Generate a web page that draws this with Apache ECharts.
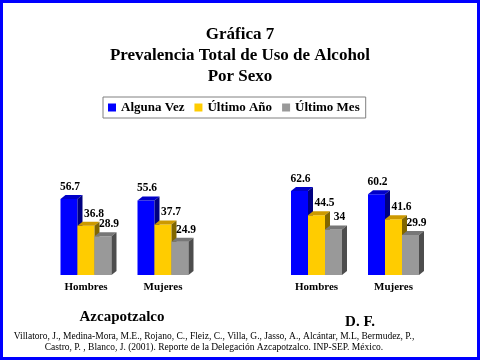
<!DOCTYPE html>
<html>
<head>
<meta charset="utf-8">
<script src="https://cdn.jsdelivr.net/npm/echarts@6/dist/echarts.min.js"></script>
<style>html,body{margin:0;padding:0;background:#fff;}#c{width:480px;height:360px;}</style>
</head>
<body>
<div id="c"></div>
<script>
const categories = ['Hombres', 'Mujeres'];
const seriesNames = ['Alguna Vez', 'Último Año', 'Último Mes'];
const groupLabels = ['Azcapotzalco', 'D. F.'];
const azcAlgunaVez = [56.7, 55.6];
const azcUltimoAno = [36.8, 37.7];
const azcUltimoMes = [28.9, 24.9];
const dfAlgunaVez = [62.6, 60.2];
const dfUltimoAno = [44.5, 41.6];
const dfUltimoMes = [34, 29.9];
const titleLines = ['Gráfica 7', 'Prevalencia Total de Uso de Alcohol', 'Por Sexo'];
const citation = 'Villatoro, J., Medina-Mora, M.E., Rojano, C., Fleiz, C., Villa, G., Jasso, A., Alcántar, M.L, Bermudez, P.,\nCastro, P. , Blanco, J. (2001). Reporte de la Delegación Azcapotzalco. INP-SEP. México.';

const faces = [
  { front: '#0000FF', top: '#0000C8', side: '#000080' },
  { front: '#FFCC00', top: '#CC9900', side: '#806600' },
  { front: '#999999', top: '#777777', side: '#4D4D4D' }
];
const labelShift = [1, 8, 6];
const BW = 17, DX = 5, DY = 4;

function makeRender(i) {
  return function (params, api) {
    const ci = api.value(0), v = api.value(1);
    const base = api.coord([ci, 0]);
    const top = api.coord([ci, v]);
    const x0 = base[0] - 25.5 + i * BW;
    const x1 = x0 + BW;
    const yb = base[1], yt = top[1];
    const f = faces[i];
    return {
      type: 'group',
      children: [
        { type: 'rect', shape: { x: x0, y: yt, width: BW, height: yb - yt }, style: { fill: f.front } },
        { type: 'polygon', shape: { points: [[x0, yt], [x1, yt], [x1 + DX, yt - DY], [x0 + DX, yt - DY]] }, style: { fill: f.top } },
        { type: 'polygon', shape: { points: [[x1, yt], [x1 + DX, yt - DY], [x1 + DX, yb - DY], [x1, yb]] }, style: { fill: f.side } },
        { type: 'text', x: x0 + BW / 2 + labelShift[i], y: yt - DY - 8,
          style: { text: String(v), fill: '#000', font: 'bold 11.5px "Liberation Serif", serif', align: 'center', verticalAlign: 'middle' } }
      ]
    };
  };
}

const groups = [
  [azcAlgunaVez, azcUltimoAno, azcUltimoMes],
  [dfAlgunaVez, dfUltimoAno, dfUltimoMes]
];
const series = [];
groups.forEach((g, gi) => {
  g.forEach((vals, i) => {
    series.push({
      type: 'custom', name: seriesNames[i], xAxisIndex: gi, yAxisIndex: gi,
      itemStyle: { color: faces[i].front },
      renderItem: makeRender(i),
      data: vals.map((v, k) => [k, v])
    });
  });
});

const axisX = (gi) => ({
  type: 'category', gridIndex: gi, data: categories,
  axisLine: { show: false }, axisTick: { show: false },
  axisLabel: { color: '#000', fontFamily: 'Liberation Serif', fontWeight: 'bold', fontSize: 11, margin: 7 }
});
const axisY = (gi) => ({ type: 'value', gridIndex: gi, min: 0, max: 100, show: false, splitLine: { show: false } });

const chart = echarts.init(document.getElementById('c'));
chart.setOption({
  animation: false,
  backgroundColor: '#fff',
  title: {
    text: titleLines.join('\n'), left: 'center', top: 19,
    textStyle: { fontFamily: 'Liberation Serif', fontWeight: 'bold', fontSize: 17, lineHeight: 21, color: '#000' }
  },
  legend: {
    data: seriesNames, left: 103, top: 97,
    itemWidth: 8, itemHeight: 8, itemGap: 10, icon: 'rect',
    borderColor: '#808080', borderWidth: 1, borderRadius: 0, padding: [4, 6, 4, 5],
    textStyle: { fontFamily: 'Liberation Serif', fontWeight: 'bold', fontSize: 13, color: '#000' }
  },
  grid: [
    { left: 47.5, width: 154, top: 141, height: 134 },
    { left: 278, width: 154, top: 141, height: 134 }
  ],
  xAxis: [axisX(0), axisX(1)],
  yAxis: [axisY(0), axisY(1)],
  series: series,
  graphic: [
    { type: 'rect', shape: { x: 1.5, y: 1.5, width: 477, height: 357 }, style: { fill: 'none', stroke: '#0000FF', lineWidth: 3 }, silent: true },
    { type: 'text', x: 122, y: 317, style: { text: groupLabels[0], font: 'bold 15px "Liberation Serif", serif', fill: '#000', align: 'center', verticalAlign: 'middle' } },
    { type: 'text', x: 360, y: 322, style: { text: groupLabels[1], font: 'bold 15px "Liberation Serif", serif', fill: '#000', align: 'center', verticalAlign: 'middle' } },
    { type: 'text', x: 214, y: 342, style: { text: citation, font: '9.5px "Liberation Serif", serif', lineHeight: 10.5, fill: '#000', align: 'center', verticalAlign: 'middle' } }
  ]
});
</script>
</body>
</html>
